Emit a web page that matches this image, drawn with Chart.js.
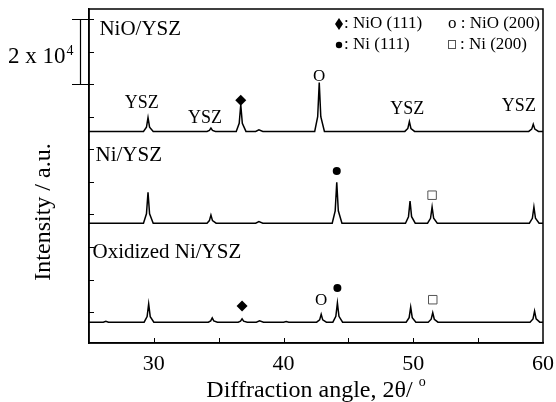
<!DOCTYPE html>
<html>
<head>
<meta charset="utf-8">
<script src="https://cdn.jsdelivr.net/npm/chart.js@4"></script>
<style>
  html, body { margin: 0; padding: 0; background: #fff; }
</style>
</head>
<body>
<canvas id="xrdChart" width="556" height="402"></canvas>
<script>
// 2-theta / intensity points (intensity in units of 1e4 counts, traces offset)
const nioX = [25, 29.2, 29.43, 29.55, 29.67, 29.95, 34.1, 34.28, 34.4, 34.52, 34.75,
  36.35, 36.58, 36.7, 36.82, 37.1, 37.85, 38.1, 38.4, 42.4, 42.63, 42.75, 42.87, 43.15,
  49.35, 49.58, 49.7, 49.82, 50.1, 58.9, 59.13, 59.25, 59.37, 59.65, 60];
const nioY = [6.55, 6.55, 6.68, 6.97, 6.68, 6.55, 6.55, 6.58, 6.65, 6.58, 6.55,
  6.55, 6.80, 7.37, 6.80, 6.55, 6.55, 6.60, 6.55, 6.55, 7.00, 8.05, 7.00, 6.55,
  6.55, 6.64, 6.85, 6.64, 6.55, 6.55, 6.62, 6.77, 6.62, 6.55, 6.55];

const niX = [25, 29.2, 29.43, 29.55, 29.67, 29.95, 34.1, 34.28, 34.4, 34.52, 34.8,
  37.85, 38.1, 38.4, 43.75, 43.98, 44.1, 44.22, 44.5, 49.4, 49.63, 49.75, 49.87, 50.15,
  51.1, 51.33, 51.45, 51.57, 51.85, 58.95, 59.18, 59.3, 59.42, 59.7, 60];
const niY = [3.73, 3.73, 4.02, 4.68, 4.02, 3.73, 3.73, 3.81, 3.98, 3.81, 3.73,
  3.73, 3.78, 3.73, 3.73, 4.11, 4.99, 4.11, 3.73, 3.73, 3.93, 4.41, 3.93, 3.73,
  3.73, 3.88, 4.23, 3.88, 3.73, 3.73, 3.88, 4.23, 3.88, 3.73, 3.73];

const oxX = [25, 26.1, 26.3, 26.5, 29.25, 29.48, 29.6, 29.72, 30.0, 34.2, 34.38, 34.5, 34.62, 34.9,
  36.5, 36.68, 36.8, 36.92, 37.2, 37.9, 38.15, 38.45, 40.0, 40.2, 40.4,
  42.55, 42.78, 42.9, 43.02, 43.3, 43.8, 44.03, 44.15, 44.27, 44.55,
  49.45, 49.68, 49.8, 49.92, 50.2, 51.15, 51.38, 51.5, 51.62, 51.9,
  59.0, 59.23, 59.35, 59.47, 59.75, 60];
const oxY = [0.69, 0.69, 0.72, 0.69, 0.69, 0.86, 1.25, 0.86, 0.69, 0.69, 0.73, 0.82, 0.73, 0.69,
  0.69, 0.72, 0.79, 0.72, 0.69, 0.69, 0.73, 0.69, 0.69, 0.71, 0.69,
  0.69, 0.76, 0.93, 0.76, 0.69, 0.69, 0.87, 1.28, 0.87, 0.69,
  0.69, 0.83, 1.15, 0.83, 0.69, 0.69, 0.78, 0.98, 0.78, 0.69,
  0.69, 0.79, 1.03, 0.79, 0.69, 0.69];

// peak markers
const nio111X = [36.7, 36.8];
const nio111Y = [7.51, 1.19];
const nio200X = [42.75, 42.9];
const nio200Y = [8.25, 1.34];
const ni111X = [44.1, 44.15];
const ni111Y = [5.33, 1.74];
const ni200X = [51.45, 51.5];
const ni200Y = [4.59, 1.38];

// text labels
const yszX = [29.07, 33.95, 49.53, 58.14];
const yszY = [7.42, 6.96, 7.24, 7.33];
const sampleNames = ['NiO/YSZ', 'Ni/YSZ', 'Oxidized Ni/YSZ'];
const sampleX = [25.8, 25.5, 25.27];
const sampleY = [9.69, 5.82, 2.84];

const xTicks = [30, 40, 50, 60];
const xMinor = [30, 35, 40, 45, 50, 55];
const yTicks = [1, 2, 3, 4, 5, 6, 7, 8, 9, 10];

const serif = "'Liberation Serif', 'Times New Roman', serif";
const pts = (xs, ys) => xs.map((x, i) => ({ x: x, y: ys[i] }));

const traceStyle = { borderColor: '#000', borderWidth: 1.5, pointRadius: 0, tension: 0, fill: false };

const decor = {
  id: 'decor',
  afterDraw(chart) {
    const ctx = chart.ctx;
    const a = chart.chartArea;
    const xs = chart.scales.x, ys = chart.scales.y;
    ctx.save();
    ctx.strokeStyle = '#000';
    ctx.lineWidth = 1.5;
    ctx.strokeRect(a.left, a.top, a.right - a.left, a.bottom - a.top);

    // inward ticks
    ctx.lineWidth = 1;
    ctx.beginPath();
    yTicks.forEach(v => {
      const py = Math.round(ys.getPixelForValue(v)) + 0.5;
      ctx.moveTo(a.left, py); ctx.lineTo(a.left + 5, py);
    });
    xMinor.forEach(v => {
      const px = Math.round(xs.getPixelForValue(v)) + 0.5;
      ctx.moveTo(px, a.bottom); ctx.lineTo(px, a.bottom - 5);
    });
    ctx.stroke();

    ctx.fillStyle = '#000';

    // x tick labels
    ctx.font = '22px ' + serif;
    ctx.textAlign = 'center';
    ctx.textBaseline = 'alphabetic';
    xTicks.forEach(v => ctx.fillText(String(v), xs.getPixelForValue(v), a.bottom + 27));

    ctx.textBaseline = 'middle';

    // sample names
    ctx.font = '21px ' + serif;
    ctx.textAlign = 'left';
    sampleNames.forEach((s, i) => {
      ctx.fillText(s, xs.getPixelForValue(sampleX[i]), ys.getPixelForValue(sampleY[i]));
    });

    // YSZ labels
    ctx.font = '18px ' + serif;
    ctx.textAlign = 'center';
    yszX.forEach((x, i) => ctx.fillText('YSZ', xs.getPixelForValue(x), ys.getPixelForValue(yszY[i])));

    // NiO (200) "O" marks
    ctx.font = '17px ' + serif;
    nio200X.forEach((x, i) => ctx.fillText('O', xs.getPixelForValue(x), ys.getPixelForValue(nio200Y[i])));

    // key
    ctx.font = '17px ' + serif;
    ctx.textAlign = 'left';
    const k2 = 'o : NiO (200)';
    const colX = a.right - 3 - ctx.measureText(k2).width;
    ctx.beginPath();
    ctx.moveTo(339, 18); ctx.lineTo(343, 24); ctx.lineTo(339, 30); ctx.lineTo(335, 24);
    ctx.closePath();
    ctx.fill();
    ctx.beginPath();
    ctx.arc(339, 45, 3.2, 0, Math.PI * 2);
    ctx.fill();
    ctx.fillText(': NiO (111)', 344, 24);
    ctx.fillText(k2, colX, 24);
    ctx.fillText(': Ni (111)', 344, 45);
    ctx.fillText(': Ni (200)', colX + 12, 45);
    ctx.strokeStyle = '#555';
    ctx.lineWidth = 1;
    ctx.strokeRect(Math.round(colX) + 0.5, 40.5, 7, 8);

    // scale bar 2 x 10^4
    ctx.strokeStyle = '#000';
    ctx.lineWidth = 1.2;
    const t = Math.round(ys.getPixelForValue(10)) + 0.5;
    const b = Math.round(ys.getPixelForValue(8)) + 0.5;
    ctx.beginPath();
    ctx.moveTo(80.5, t); ctx.lineTo(80.5, b);
    ctx.moveTo(72, t); ctx.lineTo(88, t);
    ctx.moveTo(72, b); ctx.lineTo(88, b);
    ctx.stroke();
    ctx.textAlign = 'left';
    ctx.textBaseline = 'alphabetic';
    ctx.font = '23px ' + serif;
    ctx.fillText('2 x 10', 8, 63);
    const wb = ctx.measureText('2 x 10').width;
    ctx.font = '14px ' + serif;
    ctx.fillText('4', 8 + wb + 1, 55);

    // axis titles
    ctx.font = '24px ' + serif;
    const main = 'Diffraction angle, 2\u03b8/ ';
    const w = ctx.measureText(main).width;
    ctx.font = '14px ' + serif;
    const w2 = ctx.measureText('o').width;
    const x0 = 316 - (w + w2) / 2;
    ctx.font = '24px ' + serif;
    ctx.fillText(main, x0, 397);
    ctx.font = '14px ' + serif;
    ctx.fillText('o', x0 + w, 386);

    ctx.translate(44, 212);
    ctx.rotate(-Math.PI / 2);
    ctx.textAlign = 'center';
    ctx.textBaseline = 'middle';
    ctx.font = '24px ' + serif;
    ctx.fillText('Intensity / a.u.', 0, 0);
    ctx.restore();
  }
};

new Chart(document.getElementById('xrdChart'), {
  type: 'line',
  data: {
    datasets: [
      Object.assign({ label: 'NiO/YSZ', data: pts(nioX, nioY) }, traceStyle),
      Object.assign({ label: 'Ni/YSZ', data: pts(niX, niY) }, traceStyle),
      Object.assign({ label: 'Oxidized Ni/YSZ', data: pts(oxX, oxY) }, traceStyle),
      { label: 'NiO (111)', data: pts(nio111X, nio111Y), showLine: false, pointStyle: 'rectRot',
        pointRadius: 5.5, backgroundColor: '#000', borderColor: '#000', borderWidth: 0 },
      { label: 'Ni (111)', data: pts(ni111X, ni111Y), showLine: false, pointStyle: 'circle',
        pointRadius: 4, backgroundColor: '#000', borderColor: '#000', borderWidth: 0 },
      { label: 'Ni (200)', data: pts(ni200X, ni200Y), showLine: false, pointStyle: 'rect',
        pointRadius: 6, backgroundColor: '#fff', borderColor: '#555', borderWidth: 1 }
    ]
  },
  options: {
    responsive: false,
    animation: false,
    layout: { padding: { left: 89, right: 13, top: 9, bottom: 59 } },
    plugins: { legend: { display: false }, tooltip: { enabled: false } },
    scales: {
      x: {
        type: 'linear', min: 25, max: 60,
        ticks: { display: false },
        grid: { drawOnChartArea: false, drawTicks: false },
        border: { color: '#000', width: 1.5 }
      },
      y: {
        min: 0.05, max: 10.31,
        ticks: { display: false },
        grid: { drawOnChartArea: false, drawTicks: false },
        border: { color: '#000', width: 1.5 }
      }
    }
  },
  plugins: [decor]
});
</script>
</body>
</html>
